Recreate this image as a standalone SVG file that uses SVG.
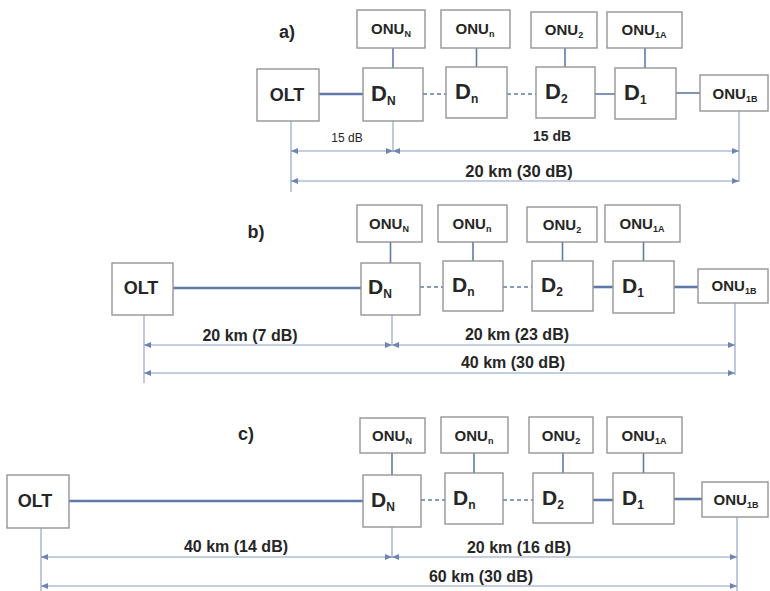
<svg xmlns="http://www.w3.org/2000/svg" width="770" height="591" viewBox="0 0 770 591">
<style>
text{font-family:"Liberation Sans",Arial,sans-serif;fill:#262626;font-weight:bold}
.box{fill:#fff;stroke:#959595;stroke-width:1.4}
.olt{font-size:18px;text-anchor:middle}
.d{font-size:21px}
.onu{font-size:15px;text-anchor:middle}
.sub{font-size:9px}
.dsub{font-size:12px}
.lbl{font-size:16px;text-anchor:middle}
.pl{font-size:18px;text-anchor:middle}
.ln{stroke:#6179a8;stroke-width:1.6;fill:none}
.thick{stroke:#6179a8;stroke-width:2.6;fill:none}
.dash{stroke:#6179a8;stroke-width:1.6;stroke-dasharray:4 3;fill:none}
.dimv{stroke:#8b9cc2;stroke-width:1.1;fill:none}
.dim{stroke:#8b9cc2;stroke-width:1.1;fill:none;marker-start:url(#ar);marker-end:url(#ar)}
</style>
<defs>
<marker id="ar" markerUnits="userSpaceOnUse" markerWidth="7" markerHeight="6" refX="7" refY="3" orient="auto-start-reverse"><path d="M0,0 L7,3 L0,6 z" fill="#6f84b3"/></marker>
</defs>
<rect width="770" height="591" fill="#fff"/>

<!-- Panel labels -->
<text class="pl" x="287" y="38">a)</text>
<text class="pl" x="256" y="238">b)</text>
<text class="pl" x="246" y="440">c)</text>

<!-- Connectors -->
<g id="connectors">
<!-- a -->
<line class="thick" x1="319" y1="94" x2="363" y2="94"/>
<line class="dash" x1="423" y1="94" x2="446" y2="94"/>
<line class="dash" x1="507" y1="94" x2="536" y2="94"/>
<line class="ln" x1="595" y1="94" x2="615" y2="94"/>
<line class="ln" x1="676" y1="93" x2="700" y2="93"/>
<line class="ln" x1="393" y1="48" x2="393" y2="68"/>
<line class="ln" x1="476.5" y1="48" x2="476.5" y2="67"/>
<line class="ln" x1="565" y1="48" x2="565" y2="67"/>
<line class="ln" x1="645" y1="48" x2="645" y2="68"/>
<line class="dimv" x1="291" y1="121" x2="291" y2="192"/>
<line class="dimv" x1="393" y1="121" x2="393" y2="152"/>
<line class="dimv" x1="739" y1="111" x2="739" y2="182"/>
<line class="dim" x1="291" y1="151" x2="393" y2="151"/>
<line class="dim" x1="393" y1="151" x2="739" y2="151"/>
<line class="dim" x1="291" y1="181" x2="739" y2="181"/>
<text x="347" y="142" style="font-size:12px;font-weight:normal;text-anchor:middle">15 dB</text>
<text x="552" y="141" style="font-size:14px;text-anchor:middle">15 dB</text>
<text class="lbl" x="519" y="177" style="font-size:16.5px">20 km (30 dB)</text>
<!-- b -->
<line class="thick" x1="173" y1="288" x2="361" y2="288"/>
<line class="dash" x1="420" y1="287" x2="443" y2="287"/>
<line class="dash" x1="503" y1="287" x2="532" y2="287"/>
<line class="thick" x1="593" y1="287" x2="613" y2="287"/>
<line class="thick" x1="674" y1="287" x2="698" y2="287"/>
<line class="ln" x1="390.5" y1="242" x2="390.5" y2="263"/>
<line class="ln" x1="473" y1="242" x2="473" y2="261"/>
<line class="ln" x1="562.5" y1="242" x2="562.5" y2="261"/>
<line class="ln" x1="643.5" y1="242" x2="643.5" y2="261"/>
<line class="dimv" x1="144" y1="315" x2="144" y2="383"/>
<line class="dimv" x1="392" y1="315" x2="392" y2="345"/>
<line class="dimv" x1="735" y1="303" x2="735" y2="375"/>
<line class="dim" x1="144" y1="345" x2="392" y2="345"/>
<line class="dim" x1="392" y1="345" x2="735" y2="345"/>
<line class="dim" x1="144" y1="373" x2="735" y2="373"/>
<text class="lbl" x="250" y="341">20 km (7 dB)</text>
<text class="lbl" x="517" y="340">20 km (23 dB)</text>
<text class="lbl" x="513" y="368">40 km (30 dB)</text>
<!-- c -->
<line class="thick" x1="69" y1="501" x2="363" y2="501"/>
<line class="dash" x1="421" y1="500" x2="445" y2="500"/>
<line class="dash" x1="503" y1="500" x2="533" y2="500"/>
<line class="thick" x1="593" y1="500" x2="613" y2="500"/>
<line class="thick" x1="674" y1="499" x2="702" y2="499"/>
<line class="ln" x1="392" y1="453" x2="392" y2="475"/>
<line class="ln" x1="474" y1="453" x2="474" y2="473"/>
<line class="ln" x1="563" y1="453" x2="563" y2="473"/>
<line class="ln" x1="643.5" y1="453" x2="643.5" y2="473"/>
<line class="dimv" x1="41" y1="528" x2="41" y2="591"/>
<line class="dimv" x1="392" y1="527" x2="392" y2="558"/>
<line class="dimv" x1="737" y1="517" x2="737" y2="591"/>
<line class="dim" x1="41" y1="557" x2="392" y2="557"/>
<line class="dim" x1="392" y1="557" x2="737" y2="557"/>
<line class="dim" x1="41" y1="586" x2="737" y2="586"/>
<text class="lbl" x="236" y="552">40 km (14 dB)</text>
<text class="lbl" x="519" y="553">20 km (16 dB)</text>
<text class="lbl" x="481" y="582">60 km (30 dB)</text>
</g>

<!-- Panel a nodes -->
<g id="a_olt"><rect class="box" x="257" y="69" width="62" height="52"/><text class="olt" x="287" y="101">OLT</text></g>
<g id="a_dN"><rect class="box" x="363" y="68" width="60" height="53"/><text class="d" x="371" y="101" style="font-size:22px">D<tspan class="dsub" dy="4">N</tspan></text></g>
<g id="a_dn"><rect class="box" x="446" y="67" width="61" height="51"/><text class="d" x="455" y="99" style="font-size:22px">D<tspan class="dsub" dy="4">n</tspan></text></g>
<g id="a_d2"><rect class="box" x="536" y="67" width="59" height="51"/><text class="d" x="545" y="99" style="font-size:22px">D<tspan class="dsub" dy="4">2</tspan></text></g>
<g id="a_d1"><rect class="box" x="615" y="68" width="61" height="51"/><text class="d" x="624" y="100" style="font-size:22px">D<tspan class="dsub" dy="4">1</tspan></text></g>
<g id="a_onuN"><rect class="box" x="357" y="10" width="68" height="38"/><text class="onu" x="391" y="34">ONU<tspan class="sub" dy="3">N</tspan></text></g>
<g id="a_onun"><rect class="box" x="441" y="10" width="69" height="38"/><text class="onu" x="475" y="34">ONU<tspan class="sub" dy="3">n</tspan></text></g>
<g id="a_onu2"><rect class="box" x="531" y="12" width="66" height="36"/><text class="onu" x="564" y="35">ONU<tspan class="sub" dy="3">2</tspan></text></g>
<g id="a_onu1A"><rect class="box" x="607" y="12" width="75" height="36"/><text class="onu" x="644" y="35">ONU<tspan class="sub" dy="3">1A</tspan></text></g>
<g id="a_onu1B"><rect class="box" x="700" y="75" width="68" height="36"/><text class="onu" x="735" y="99">ONU<tspan class="sub" dy="3">1B</tspan></text></g>

<!-- Panel b nodes -->
<g id="b_olt"><rect class="box" x="112" y="263" width="61" height="52"/><text class="olt" x="141" y="294">OLT</text></g>
<g id="b_dN"><rect class="box" x="361" y="263" width="59" height="52"/><text class="d" x="368" y="294">D<tspan class="dsub" dy="4">N</tspan></text></g>
<g id="b_dn"><rect class="box" x="443" y="261" width="60" height="50"/><text class="d" x="452" y="292">D<tspan class="dsub" dy="4">n</tspan></text></g>
<g id="b_d2"><rect class="box" x="532" y="261" width="61" height="50"/><text class="d" x="541" y="292">D<tspan class="dsub" dy="4">2</tspan></text></g>
<g id="b_d1"><rect class="box" x="613" y="261" width="61" height="52"/><text class="d" x="622" y="293">D<tspan class="dsub" dy="4">1</tspan></text></g>
<g id="b_onuN"><rect class="box" x="357" y="205" width="65" height="37"/><text class="onu" x="389" y="229">ONU<tspan class="sub" dy="3">N</tspan></text></g>
<g id="b_onun"><rect class="box" x="438" y="205" width="69" height="37"/><text class="onu" x="472" y="229">ONU<tspan class="sub" dy="3">n</tspan></text></g>
<g id="b_onu2"><rect class="box" x="527" y="207" width="70" height="35"/><text class="onu" x="562" y="230">ONU<tspan class="sub" dy="3">2</tspan></text></g>
<g id="b_onu1A"><rect class="box" x="605" y="205" width="75" height="37"/><text class="onu" x="642" y="229">ONU<tspan class="sub" dy="3">1A</tspan></text></g>
<g id="b_onu1B"><rect class="box" x="698" y="269" width="70" height="34"/><text class="onu" x="734" y="291">ONU<tspan class="sub" dy="3">1B</tspan></text></g>

<!-- Panel c nodes -->
<g id="c_olt"><rect class="box" x="7" y="475" width="62" height="53"/><text class="olt" x="35" y="507">OLT</text></g>
<g id="c_dN"><rect class="box" x="363" y="475" width="58" height="52"/><text class="d" x="371" y="507">D<tspan class="dsub" dy="4">N</tspan></text></g>
<g id="c_dn"><rect class="box" x="445" y="473" width="58" height="51"/><text class="d" x="453" y="505">D<tspan class="dsub" dy="4">n</tspan></text></g>
<g id="c_d2"><rect class="box" x="533" y="473" width="60" height="50"/><text class="d" x="542" y="505">D<tspan class="dsub" dy="4">2</tspan></text></g>
<g id="c_d1"><rect class="box" x="613" y="473" width="61" height="51"/><text class="d" x="622" y="505">D<tspan class="dsub" dy="4">1</tspan></text></g>
<g id="c_onuN"><rect class="box" x="360" y="418" width="65" height="35"/><text class="onu" x="392" y="441">ONU<tspan class="sub" dy="3">N</tspan></text></g>
<g id="c_onun"><rect class="box" x="441" y="417" width="67" height="36"/><text class="onu" x="474" y="441">ONU<tspan class="sub" dy="3">n</tspan></text></g>
<g id="c_onu2"><rect class="box" x="529" y="417" width="64" height="36"/><text class="onu" x="561" y="441">ONU<tspan class="sub" dy="3">2</tspan></text></g>
<g id="c_onu1A"><rect class="box" x="607" y="417" width="75" height="36"/><text class="onu" x="644" y="441">ONU<tspan class="sub" dy="3">1A</tspan></text></g>
<g id="c_onu1B"><rect class="box" x="702" y="482" width="66" height="35"/><text class="onu" x="736" y="505">ONU<tspan class="sub" dy="3">1B</tspan></text></g>
</svg>
